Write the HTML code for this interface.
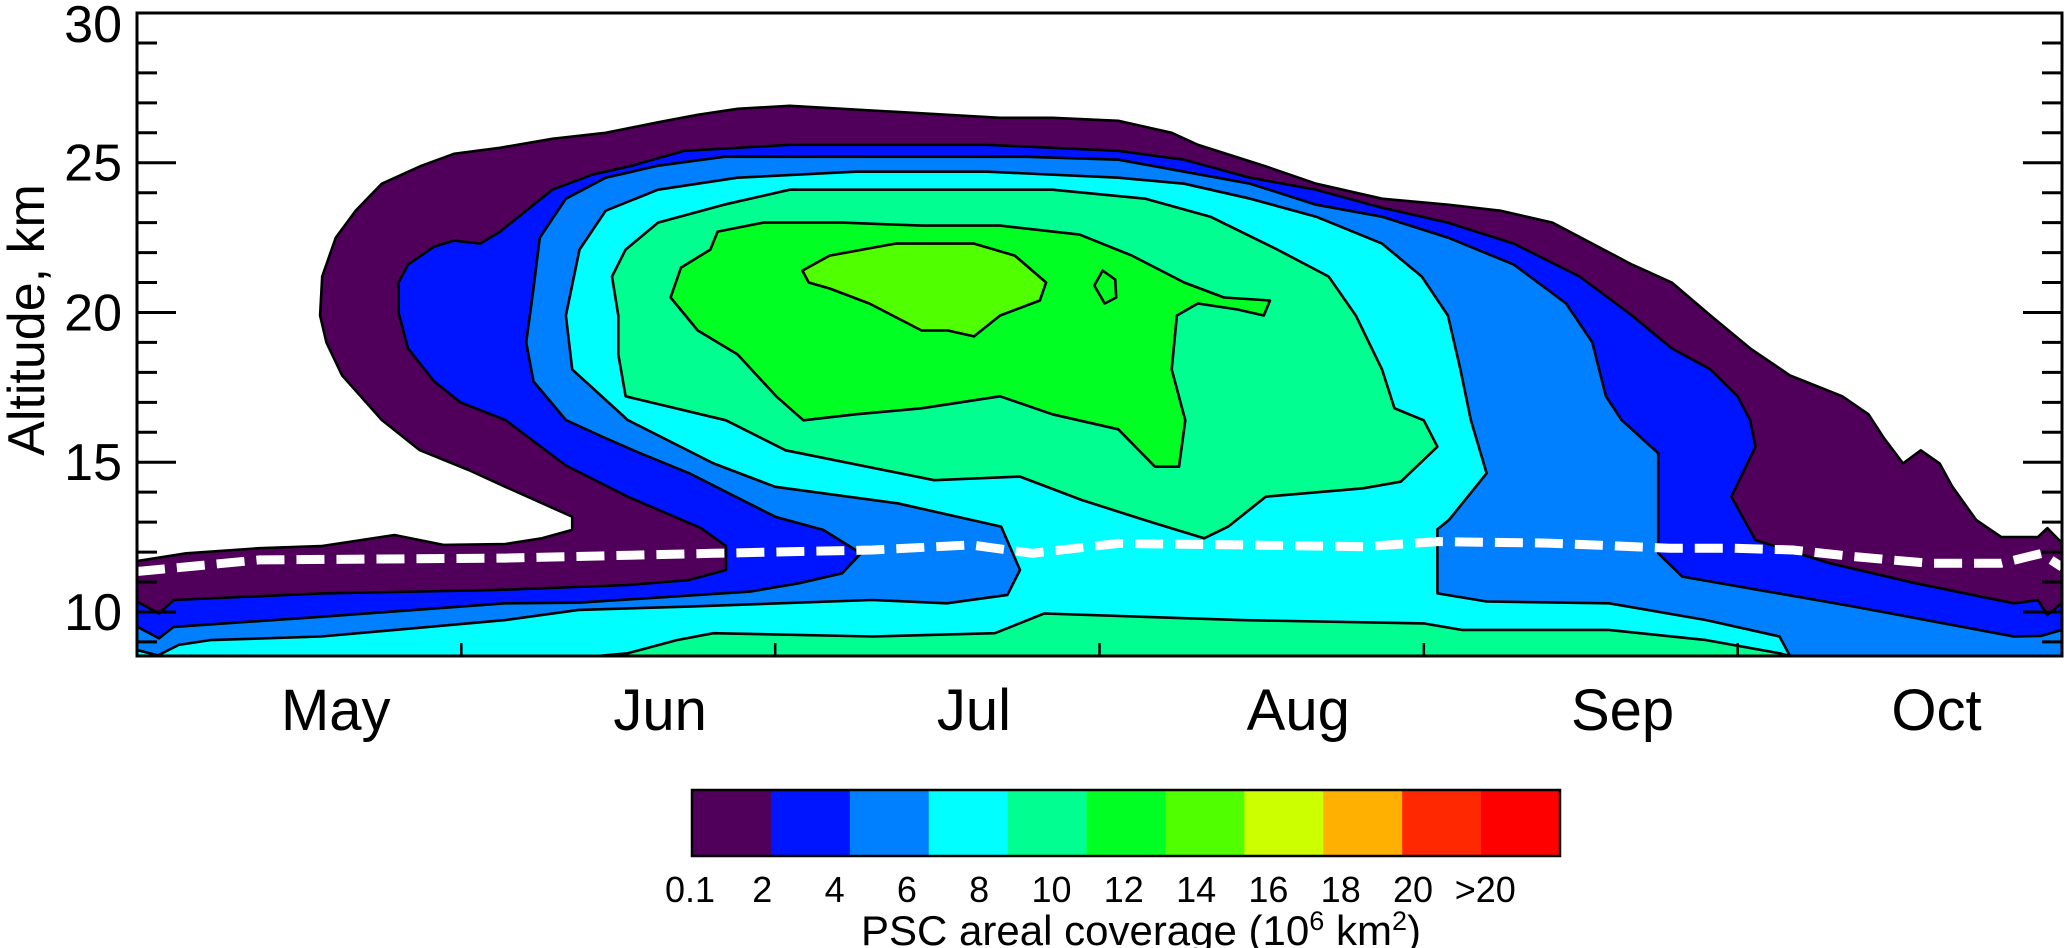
<!DOCTYPE html>
<html><head><meta charset="utf-8"><title>PSC areal coverage</title>
<style>
html,body{margin:0;padding:0;background:#fff;}
svg{display:block;}
text{font-family:"Liberation Sans",Arial,sans-serif;fill:#000;}
</style></head>
<body>
<svg id="chart" xmlns="http://www.w3.org/2000/svg" width="2067" height="948" viewBox="0 0 2067 948">
  <defs><clipPath id="plotclip"><rect x="137" y="13" width="1925" height="643"/></clipPath></defs>
  <g id="contours" clip-path="url(#plotclip)"></g>
  <g id="axes"></g>
  <text x="0" y="0" font-size="52" text-anchor="middle" transform="translate(44,320) rotate(-90)">Altitude, km</text>
  <g id="colorbar"></g>
  <text x="1141" y="945" font-size="42" text-anchor="middle">PSC areal coverage (10<tspan font-size="27" dy="-15">6</tspan><tspan dy="15"> km</tspan><tspan font-size="27" dy="-15">2</tspan><tspan dy="15">)</tspan></text>
</svg>
<script>
// ---- data (day since May 1, altitude km) ----
const monthNames = ["May","Jun","Jul","Aug","Sep","Oct"];
const monthStartDays = [0,31,61,92,123,153];
const yTickValues = [10,15,20,25,30];
const levelLabels = ["0.1","2","4","6","8","10","12","14","16","18","20",">20"];
const levelColors = ["#50005a","#0015ff","#0080ff","#00ffff","#00ff90","#00ff22","#50ff00","#ccff00","#ffb000","#ff2800","#ff0000","#ffffff"];

const level1 = [[0,8.53],[0,11.7],[4.7,11.96],[11.7,12.13],[17.6,12.2],[24.6,12.57],[29.3,12.24],[35.2,12.27],[38.7,12.46],[41.6,12.74],[41.6,13.18],[35.2,14.18],[31.7,14.74],[27,15.41],[23.4,16.41],[19.6,17.9],[18.1,19.0],[17.5,19.9],[17.7,21.2],[19,22.5],[20.9,23.4],[23.4,24.3],[27.2,24.9],[30.3,25.3],[34.7,25.5],[39.7,25.8],[44.8,26.0],[49.8,26.35],[53.6,26.6],[57.4,26.8],[62.4,26.9],[67.4,26.8],[72.5,26.7],[77.5,26.6],[82.5,26.5],[87.5,26.5],[93.8,26.4],[98.9,26.0],[101.4,25.6],[107.7,24.9],[112.7,24.3],[119,23.8],[125.3,23.6],[130.3,23.4],[135.3,23.0],[139.1,22.3],[142.9,21.6],[146.7,21.0],[150.4,19.9],[154.2,18.8],[158,17.9],[163,17.2],[165.5,16.6],[167,15.8],[168.8,14.96],[170.5,15.4],[172.3,14.96],[173.5,14.2],[175.8,13.07],[178.2,12.5],[181.7,12.5],[182.6,12.8],[184,12.3],[184,8.53]];
const level2 = [[0,8.53],[0,10.35],[2.1,9.95],[3.5,10.4],[17.6,10.62],[34,10.73],[46.9,10.9],[52.8,11.07],[56.3,11.4],[56.3,12.2],[53.9,12.8],[46.9,13.85],[41,14.89],[35.2,16.41],[30.9,17.0],[28.4,17.7],[25.9,18.8],[25,20],[25,21],[25.9,21.6],[28.4,22.2],[30.3,22.4],[32.8,22.3],[34.7,22.7],[37.2,23.4],[39.7,24.1],[43.5,24.6],[47.3,24.9],[52.3,25.4],[57.4,25.5],[62.4,25.6],[68.7,25.6],[75,25.6],[81.3,25.6],[87.5,25.5],[93.8,25.4],[100.1,25.1],[106.4,24.5],[112.7,24.1],[119,23.5],[125.3,23.0],[131.6,22.3],[137.9,21.2],[142.9,19.9],[146.7,18.8],[150.4,18.1],[153,17.2],[154.2,16.4],[154.7,15.52],[152.4,13.85],[154.7,12.4],[161.8,11.63],[170,10.96],[179.4,10.29],[181.7,10.4],[182.6,9.9],[184,10.3],[184,8.53]];
const level3 = [[0,8.53],[0,9.51],[2.1,9.12],[3.5,9.5],[17.6,9.84],[35.2,10.29],[42.2,10.31],[58.6,10.68],[63.3,10.96],[67.4,11.29],[69.2,11.96],[65.6,12.74],[61,13.18],[52.8,14.63],[48.1,15.3],[44.5,15.85],[41,16.41],[37.9,17.7],[37.2,19],[37.9,20.8],[38.5,22.5],[41,23.8],[44.8,24.5],[49.8,24.9],[56.1,25.2],[62.4,25.2],[75,25.2],[85,25.2],[93.8,25.1],[100.1,24.7],[106.4,24.3],[112.7,23.6],[119,23.2],[125.3,22.5],[131.6,21.6],[136.6,20.3],[139.1,19],[140.4,17.2],[141.9,16.41],[145.4,15.3],[145.4,11.96],[147.7,11.18],[164.1,10.18],[179.4,9.18],[182,9.2],[184,9.4],[184,8.53]];
const level4 = [[0,8.53],[0,8.73],[2,8.55],[4,8.9],[7,9.06],[17.6,9.18],[35.2,9.73],[42.2,10.07],[52.8,10.18],[70.3,10.4],[77.4,10.29],[83.2,10.57],[84.4,11.4],[82.6,12.85],[72.7,13.63],[61,14.18],[55.1,14.96],[46.9,16.41],[41.6,18.1],[41,19.9],[42.3,22.1],[44.8,23.4],[49.8,24.1],[57.4,24.5],[68.7,24.7],[81.3,24.7],[93.8,24.5],[100.1,24.3],[106.4,23.8],[112.7,23.2],[119,22.3],[122.8,21.2],[125.3,19.9],[126.5,18.1],[127.5,16.4],[129,14.63],[125.4,13.07],[124.3,12.76],[124.3,10.62],[129,10.35],[140.7,10.29],[150,9.73],[157,9.18],[158,8.53]];
const level5a = [[44,8.53],[46.9,8.62],[51.6,9.06],[55.1,9.29],[70.3,9.18],[82,9.29],[86.7,9.95],[105.5,9.73],[123,9.62],[126.6,9.4],[140.7,9.4],[150,9.06],[157,8.62],[158,8.53]];
const level5b = [[46,19.9],[45.4,21.2],[46.7,22.1],[49.8,23],[56.1,23.6],[62.4,24.1],[75,24.1],[87.5,24.1],[96.4,23.8],[102.6,23.2],[109,22.1],[113.9,21.2],[116.5,19.9],[119,18.1],[120.2,16.8],[123,16.4],[124.3,15.52],[120.8,14.35],[117.2,14.13],[107.9,13.85],[104.3,12.85],[102,12.46],[97.3,12.96],[90.3,13.74],[84.4,14.52],[76.2,14.4],[62,15.4],[56.3,16.4],[46.7,17.2],[46,18.6]];
const level6a = [[54.8,22.1],[55.5,22.7],[59.9,23],[67.4,23],[75,22.9],[82.5,22.9],[90.1,22.6],[95.1,21.9],[100.1,21],[103.9,20.5],[108.3,20.4],[107.7,19.9],[105.2,20.1],[101.4,20.3],[99.4,19.9],[98.9,18.1],[100.2,16.4],[99.6,14.85],[97.3,14.85],[93.8,16.1],[87.5,16.6],[82.5,17.2],[75,16.8],[68.7,16.6],[63.7,16.4],[61.1,17.2],[57.4,18.6],[53.6,19.4],[51,20.5],[52,21.5]];
const level6b = [[91.5,20.9],[92.3,21.4],[93.5,21.1],[93.6,20.5],[92.5,20.3]];
const level7 = [[63.6,21.4],[66.2,21.9],[72.5,22.3],[80,22.3],[83.9,21.9],[86.9,21],[86.3,20.4],[82.5,19.9],[80,19.2],[77.5,19.4],[75,19.4],[70,20.3],[66.2,20.8],[64.2,21]];
const tropoDays = [0,11.7,35.2,55.1,70.3,79.7,85.6,93.8,105.5,117.2,124.3,134.8,146.5,152.4,158.3,164.1,171.2,178.2,182,184];
const tropoKm = [11.35,11.74,11.8,11.96,12.07,12.24,11.96,12.29,12.24,12.18,12.35,12.3,12.13,12.13,12.07,11.85,11.63,11.63,11.95,11.5];

// ---- axis functions ----
const X0=137, X1=2062, Y0=13, Y1=656, DMIN=0, DMAX=184, KMIN=8.53, KMAX=30;
function xs(d){return X0+(d-DMIN)/(DMAX-DMIN)*(X1-X0);}
function ys(k){return Y0+(KMAX-k)/(KMAX-KMIN)*(Y1-Y0);}
const NS="http://www.w3.org/2000/svg";
function mk(tag, attrs, parent){const e=document.createElementNS(NS,tag);for(const k in attrs)e.setAttribute(k,attrs[k]);parent.appendChild(e);return e;}
function pts(arr){return arr.map(p=>xs(p[0]).toFixed(1)+","+ys(p[1]).toFixed(1)).join(" ");}

const cg=document.getElementById("contours");
const fills=[[level1,0,"contour-0.1"],[level2,1,"contour-2"],[level3,2,"contour-4"],[level4,3,"contour-6"],[level5a,4,"contour-8-lower"],[level5b,4,"contour-8-upper"],[level6a,5,"contour-10"],[level6b,5,"contour-10-island"],[level7,6,"contour-12"]];
fills.forEach(f=>{
  const p=mk("polygon",{points:pts(f[0]),fill:levelColors[f[1]],stroke:"#000","stroke-width":"2.6","stroke-linejoin":"round"},cg);
  
  
});
const tl=mk("polyline",{points:tropoDays.map((d,i)=>xs(d).toFixed(1)+","+ys(tropoKm[i]).toFixed(1)).join(" "),fill:"none",stroke:"#fff","stroke-width":"9","stroke-dasharray":"28 12"},cg);



// ---- axes ----
const ag=document.getElementById("axes");
const frame=mk("rect",{x:X0,y:Y0,width:X1-X0,height:Y1-Y0,fill:"none",stroke:"#000","stroke-width":"3"},ag);


for(let k=9;k<=29;k++){
  const major=(k%5===0);
  const len=major?39:20;
  const t1=mk("line",{x1:X0,x2:X0+len,y1:ys(k),y2:ys(k),stroke:"#000","stroke-width":"3"},ag);
  
  
  const t2=mk("line",{x1:X1,x2:X1-len,y1:ys(k),y2:ys(k),stroke:"#000","stroke-width":"3"},ag);
  
  
}
yTickValues.forEach(v=>{
  const t=mk("text",{x:122,y:Math.max(ys(v)+18,42),"font-size":"52","text-anchor":"end"},ag);
  t.textContent=String(v);
  
  
});
monthStartDays.forEach((d,i)=>{
  if(d>0){
    const t=mk("line",{x1:xs(d),x2:xs(d),y1:Y1,y2:Y1-13,stroke:"#000","stroke-width":"2.5"},ag);
    
    
  }
  const mid=d+15.5+3.5;
  const lbl=mk("text",{x:xs(mid),y:730,"font-size":"58","text-anchor":"middle"},ag);
  lbl.textContent=monthNames[i];
  
  
});

// ---- colorbar ----
const cb=document.getElementById("colorbar");
const CBX=692, CBW=868, CBY=790, CBH=66;
const bw=CBW/11;
for(let i=0;i<11;i++){
  const r=mk("rect",{x:CBX+i*bw,y:CBY,width:bw+0.5,height:CBH,fill:levelColors[i]},cb);
  
  
}
const cbf=mk("rect",{x:CBX,y:CBY,width:CBW,height:CBH,fill:"none",stroke:"#000","stroke-width":"2.5"},cb);


const lblStep=72.3;
levelLabels.forEach((s,i)=>{
  const t=mk("text",{x:690+i*lblStep,y:902,"font-size":"36","text-anchor":"middle"},cb);
  t.textContent=s;
  
  
});
</script>
</body></html>
